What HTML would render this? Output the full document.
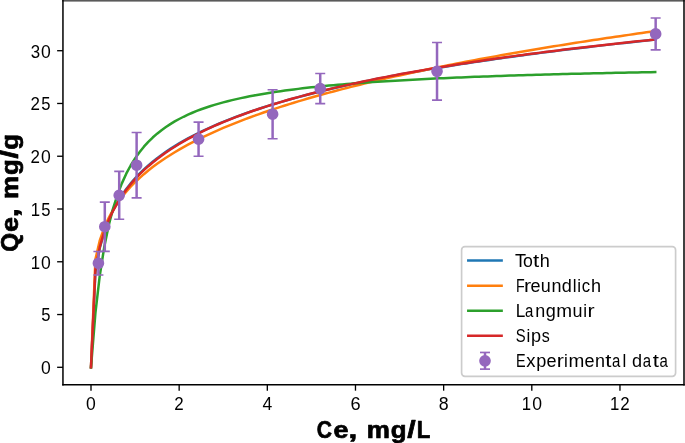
<!DOCTYPE html>
<html><head><meta charset="utf-8"><title>Isotherm fit</title>
<style>
html,body{margin:0;padding:0;background:#fff;}
body{width:685px;height:443px;overflow:hidden;font-family:"Liberation Sans",sans-serif;}
svg{display:block;will-change:transform;}
text{font-family:"Liberation Sans",sans-serif;fill:#000;}
.tk{font-size:17.5px;}
.lg{font-size:17.5px;}
.ax{font-weight:bold;} text{white-space:pre;}
</style></head><body>
<svg width="685" height="443" viewBox="0 0 685 443">
<rect x="0" y="0" width="685" height="443" fill="#fff"/>
<defs><clipPath id="ax"><rect x="62.95" y="0.5" width="621.05" height="384.35"/></clipPath></defs>

<g clip-path="url(#ax)">
<path d="M91.00,367.30 L95.41,272.22 L99.82,247.89 L104.22,232.04 L108.63,220.09 L113.04,210.43 L117.45,202.29 L121.86,195.24 L126.26,189.01 L130.67,183.42 L135.08,178.35 L139.49,173.71 L143.90,169.43 L148.30,165.45 L152.71,161.73 L157.12,158.24 L161.53,154.96 L165.94,151.85 L170.34,148.91 L174.75,146.10 L179.16,143.43 L183.57,140.88 L187.98,138.43 L192.38,136.08 L196.79,133.83 L201.20,131.65 L205.61,129.56 L210.02,127.54 L214.42,125.58 L218.83,123.69 L223.24,121.86 L227.65,120.08 L232.06,118.36 L236.46,116.68 L240.87,115.05 L245.28,113.47 L249.69,111.92 L254.10,110.42 L258.50,108.95 L262.91,107.51 L267.32,106.11 L271.73,104.75 L276.14,103.41 L280.54,102.10 L284.95,100.83 L289.36,99.57 L293.77,98.35 L298.18,97.15 L302.58,95.97 L306.99,94.81 L311.40,93.68 L315.81,92.57 L320.22,91.47 L324.62,90.40 L329.03,89.35 L333.44,88.31 L337.85,87.29 L342.26,86.29 L346.66,85.31 L351.07,84.34 L355.48,83.39 L359.89,82.45 L364.30,81.52 L368.70,80.61 L373.11,79.72 L377.52,78.83 L381.93,77.96 L386.34,77.11 L390.74,76.26 L395.15,75.43 L399.56,74.60 L403.97,73.79 L408.38,72.99 L412.78,72.20 L417.19,71.42 L421.60,70.65 L426.01,69.89 L430.42,69.14 L434.82,68.39 L439.23,67.66 L443.64,66.94 L448.05,66.22 L452.46,65.51 L456.86,64.81 L461.27,64.12 L465.68,63.44 L470.09,62.76 L474.50,62.10 L478.90,61.44 L483.31,60.78 L487.72,60.14 L492.13,59.50 L496.54,58.86 L500.94,58.24 L505.35,57.62 L509.76,57.00 L514.17,56.39 L518.58,55.79 L522.98,55.20 L527.39,54.61 L531.80,54.02 L536.21,53.44 L540.62,52.87 L545.02,52.30 L549.43,51.74 L553.84,51.18 L558.25,50.63 L562.66,50.08 L567.06,49.54 L571.47,49.00 L575.88,48.47 L580.29,47.94 L584.70,47.42 L589.10,46.90 L593.51,46.38 L597.92,45.87 L602.33,45.37 L606.74,44.87 L611.14,44.37 L615.55,43.87 L619.96,43.38 L624.37,42.90 L628.78,42.42 L633.18,41.94 L637.59,41.46 L642.00,40.99 L646.41,40.53 L650.82,40.06 L655.22,39.60" fill="none" stroke="#1f77b4" stroke-width="2.5" stroke-linecap="square" stroke-linejoin="round"/>
<path d="M91.00,367.30 L95.41,259.38 L99.82,240.35 L104.22,227.71 L108.63,217.98 L113.04,209.97 L117.45,203.11 L121.86,197.07 L126.26,191.67 L130.67,186.75 L135.08,182.24 L139.49,178.07 L143.90,174.17 L148.30,170.52 L152.71,167.07 L157.12,163.81 L161.53,160.71 L165.94,157.76 L170.34,154.94 L174.75,152.23 L179.16,149.63 L183.57,147.13 L187.98,144.72 L192.38,142.39 L196.79,140.14 L201.20,137.95 L205.61,135.84 L210.02,133.78 L214.42,131.79 L218.83,129.84 L223.24,127.95 L227.65,126.10 L232.06,124.30 L236.46,122.55 L240.87,120.83 L245.28,119.15 L249.69,117.51 L254.10,115.90 L258.50,114.33 L262.91,112.78 L267.32,111.27 L271.73,109.78 L276.14,108.33 L280.54,106.90 L284.95,105.49 L289.36,104.11 L293.77,102.75 L298.18,101.41 L302.58,100.10 L306.99,98.81 L311.40,97.53 L315.81,96.28 L320.22,95.04 L324.62,93.83 L329.03,92.63 L333.44,91.45 L337.85,90.28 L342.26,89.13 L346.66,87.99 L351.07,86.87 L355.48,85.77 L359.89,84.67 L364.30,83.60 L368.70,82.53 L373.11,81.48 L377.52,80.44 L381.93,79.41 L386.34,78.40 L390.74,77.39 L395.15,76.40 L399.56,75.42 L403.97,74.45 L408.38,73.49 L412.78,72.54 L417.19,71.59 L421.60,70.66 L426.01,69.74 L430.42,68.83 L434.82,67.93 L439.23,67.03 L443.64,66.15 L448.05,65.27 L452.46,64.40 L456.86,63.54 L461.27,62.69 L465.68,61.84 L470.09,61.00 L474.50,60.17 L478.90,59.35 L483.31,58.53 L487.72,57.72 L492.13,56.92 L496.54,56.13 L500.94,55.34 L505.35,54.56 L509.76,53.78 L514.17,53.01 L518.58,52.25 L522.98,51.49 L527.39,50.74 L531.80,49.99 L536.21,49.25 L540.62,48.52 L545.02,47.79 L549.43,47.06 L553.84,46.34 L558.25,45.63 L562.66,44.92 L567.06,44.22 L571.47,43.52 L575.88,42.83 L580.29,42.14 L584.70,41.46 L589.10,40.78 L593.51,40.10 L597.92,39.43 L602.33,38.77 L606.74,38.11 L611.14,37.45 L615.55,36.80 L619.96,36.15 L624.37,35.51 L628.78,34.87 L633.18,34.23 L637.59,33.60 L642.00,32.97 L646.41,32.34 L650.82,31.72 L655.22,31.11" fill="none" stroke="#ff7f0e" stroke-width="2.5" stroke-linecap="square" stroke-linejoin="round"/>
<path d="M91.00,367.30 L95.41,313.08 L99.82,275.19 L104.22,247.21 L108.63,225.71 L113.04,208.66 L117.45,194.82 L121.86,183.36 L126.26,173.71 L130.67,165.48 L135.08,158.37 L139.49,152.17 L143.90,146.71 L148.30,141.87 L152.71,137.55 L157.12,133.68 L161.53,130.17 L165.94,126.99 L170.34,124.10 L174.75,121.44 L179.16,119.00 L183.57,116.76 L187.98,114.68 L192.38,112.75 L196.79,110.96 L201.20,109.28 L205.61,107.72 L210.02,106.25 L214.42,104.88 L218.83,103.59 L223.24,102.37 L227.65,101.22 L232.06,100.13 L236.46,99.10 L240.87,98.12 L245.28,97.20 L249.69,96.31 L254.10,95.48 L258.50,94.68 L262.91,93.91 L267.32,93.18 L271.73,92.49 L276.14,91.82 L280.54,91.18 L284.95,90.57 L289.36,89.98 L293.77,89.41 L298.18,88.87 L302.58,88.35 L306.99,87.85 L311.40,87.36 L315.81,86.89 L320.22,86.44 L324.62,86.01 L329.03,85.59 L333.44,85.18 L337.85,84.79 L342.26,84.41 L346.66,84.04 L351.07,83.69 L355.48,83.34 L359.89,83.01 L364.30,82.68 L368.70,82.37 L373.11,82.06 L377.52,81.76 L381.93,81.47 L386.34,81.19 L390.74,80.92 L395.15,80.65 L399.56,80.40 L403.97,80.14 L408.38,79.90 L412.78,79.66 L417.19,79.43 L421.60,79.20 L426.01,78.98 L430.42,78.77 L434.82,78.55 L439.23,78.35 L443.64,78.15 L448.05,77.95 L452.46,77.76 L456.86,77.57 L461.27,77.39 L465.68,77.21 L470.09,77.04 L474.50,76.87 L478.90,76.70 L483.31,76.54 L487.72,76.38 L492.13,76.22 L496.54,76.06 L500.94,75.91 L505.35,75.77 L509.76,75.62 L514.17,75.48 L518.58,75.34 L522.98,75.21 L527.39,75.07 L531.80,74.94 L536.21,74.81 L540.62,74.69 L545.02,74.56 L549.43,74.44 L553.84,74.32 L558.25,74.21 L562.66,74.09 L567.06,73.98 L571.47,73.87 L575.88,73.76 L580.29,73.65 L584.70,73.55 L589.10,73.44 L593.51,73.34 L597.92,73.24 L602.33,73.14 L606.74,73.04 L611.14,72.95 L615.55,72.86 L619.96,72.76 L624.37,72.67 L628.78,72.58 L633.18,72.50 L637.59,72.41 L642.00,72.32 L646.41,72.24 L650.82,72.16 L655.22,72.08" fill="none" stroke="#2ca02c" stroke-width="2.5" stroke-linecap="square" stroke-linejoin="round"/>
<path d="M91.00,367.30 L95.41,269.70 L99.82,246.90 L104.22,231.78 L108.63,220.23 L113.04,210.82 L117.45,202.84 L121.86,195.88 L126.26,189.71 L130.67,184.16 L135.08,179.11 L139.49,174.47 L143.90,170.18 L148.30,166.18 L152.71,162.45 L157.12,158.94 L161.53,155.63 L165.94,152.49 L170.34,149.52 L174.75,146.69 L179.16,143.98 L183.57,141.40 L187.98,138.92 L192.38,136.55 L196.79,134.26 L201.20,132.06 L205.61,129.94 L210.02,127.89 L214.42,125.91 L218.83,123.99 L223.24,122.13 L227.65,120.33 L232.06,118.58 L236.46,116.88 L240.87,115.23 L245.28,113.62 L249.69,112.05 L254.10,110.52 L258.50,109.04 L262.91,107.58 L267.32,106.17 L271.73,104.78 L276.14,103.43 L280.54,102.10 L284.95,100.81 L289.36,99.54 L293.77,98.30 L298.18,97.08 L302.58,95.89 L306.99,94.72 L311.40,93.58 L315.81,92.45 L320.22,91.35 L324.62,90.26 L329.03,89.20 L333.44,88.15 L337.85,87.13 L342.26,86.12 L346.66,85.12 L351.07,84.15 L355.48,83.18 L359.89,82.24 L364.30,81.31 L368.70,80.39 L373.11,79.49 L377.52,78.60 L381.93,77.72 L386.34,76.86 L390.74,76.01 L395.15,75.17 L399.56,74.34 L403.97,73.53 L408.38,72.72 L412.78,71.93 L417.19,71.15 L421.60,70.37 L426.01,69.61 L430.42,68.86 L434.82,68.12 L439.23,67.38 L443.64,66.66 L448.05,65.94 L452.46,65.23 L456.86,64.53 L461.27,63.84 L465.68,63.16 L470.09,62.48 L474.50,61.82 L478.90,61.16 L483.31,60.50 L487.72,59.86 L492.13,59.22 L496.54,58.59 L500.94,57.97 L505.35,57.35 L509.76,56.74 L514.17,56.13 L518.58,55.53 L522.98,54.94 L527.39,54.35 L531.80,53.77 L536.21,53.20 L540.62,52.63 L545.02,52.06 L549.43,51.51 L553.84,50.95 L558.25,50.41 L562.66,49.86 L567.06,49.33 L571.47,48.79 L575.88,48.27 L580.29,47.74 L584.70,47.22 L589.10,46.71 L593.51,46.20 L597.92,45.70 L602.33,45.20 L606.74,44.70 L611.14,44.21 L615.55,43.72 L619.96,43.24 L624.37,42.76 L628.78,42.28 L633.18,41.81 L637.59,41.35 L642.00,40.88 L646.41,40.42 L650.82,39.97 L655.22,39.51" fill="none" stroke="#d62728" stroke-width="2.5" stroke-linecap="square" stroke-linejoin="round"/>
<g stroke="#9467bd" stroke-width="2.5" fill="none">
<line x1="98.41" x2="98.41" y1="274.96" y2="251.53"/>
<line x1="104.80" x2="104.80" y1="251.32" y2="202.15"/>
<line x1="119.21" x2="119.21" y1="219.24" y2="171.33"/>
<line x1="136.62" x2="136.62" y1="197.92" y2="132.50"/>
<line x1="198.56" x2="198.56" y1="156.24" y2="122.05"/>
<line x1="272.61" x2="272.61" y1="138.72" y2="89.76"/>
<line x1="320.22" x2="320.22" y1="103.69" y2="73.50"/>
<line x1="437.03" x2="437.03" y1="100.10" y2="42.48"/>
<line x1="655.66" x2="655.66" y1="49.87" y2="18.00"/>
</g>
<g fill="#9467bd" stroke="#9467bd" stroke-width="1.67">
<circle cx="98.41" cy="263.25" r="5"/>
<circle cx="104.80" cy="226.73" r="5"/>
<circle cx="119.21" cy="195.29" r="5"/>
<circle cx="136.62" cy="165.21" r="5"/>
<circle cx="198.56" cy="139.14" r="5"/>
<circle cx="272.61" cy="114.24" r="5"/>
<circle cx="320.22" cy="88.60" r="5"/>
<circle cx="437.03" cy="71.29" r="5"/>
<circle cx="655.66" cy="33.93" r="5"/>
</g>
<g stroke="#9467bd" stroke-width="1.67" fill="none">
<line x1="93.41" x2="103.41" y1="274.96" y2="274.96"/>
<line x1="93.41" x2="103.41" y1="251.53" y2="251.53"/>
<line x1="99.80" x2="109.80" y1="251.32" y2="251.32"/>
<line x1="99.80" x2="109.80" y1="202.15" y2="202.15"/>
<line x1="114.21" x2="124.21" y1="219.24" y2="219.24"/>
<line x1="114.21" x2="124.21" y1="171.33" y2="171.33"/>
<line x1="131.62" x2="141.62" y1="197.92" y2="197.92"/>
<line x1="131.62" x2="141.62" y1="132.50" y2="132.50"/>
<line x1="193.56" x2="203.56" y1="156.24" y2="156.24"/>
<line x1="193.56" x2="203.56" y1="122.05" y2="122.05"/>
<line x1="267.61" x2="277.61" y1="138.72" y2="138.72"/>
<line x1="267.61" x2="277.61" y1="89.76" y2="89.76"/>
<line x1="315.22" x2="325.22" y1="103.69" y2="103.69"/>
<line x1="315.22" x2="325.22" y1="73.50" y2="73.50"/>
<line x1="432.03" x2="442.03" y1="100.10" y2="100.10"/>
<line x1="432.03" x2="442.03" y1="42.48" y2="42.48"/>
<line x1="650.66" x2="660.66" y1="49.87" y2="49.87"/>
<line x1="650.66" x2="660.66" y1="18.00" y2="18.00"/>
</g>
</g>
<g stroke="#000" stroke-width="1.33" fill="none">
<line x1="91.00" x2="91.00" y1="384.85" y2="390.68"/>
<line x1="179.16" x2="179.16" y1="384.85" y2="390.68"/>
<line x1="267.32" x2="267.32" y1="384.85" y2="390.68"/>
<line x1="355.48" x2="355.48" y1="384.85" y2="390.68"/>
<line x1="443.64" x2="443.64" y1="384.85" y2="390.68"/>
<line x1="531.80" x2="531.80" y1="384.85" y2="390.68"/>
<line x1="619.96" x2="619.96" y1="384.85" y2="390.68"/>
<line x1="62.95" x2="57.12" y1="367.30" y2="367.30"/>
<line x1="62.95" x2="57.12" y1="314.54" y2="314.54"/>
<line x1="62.95" x2="57.12" y1="261.77" y2="261.77"/>
<line x1="62.95" x2="57.12" y1="209.00" y2="209.00"/>
<line x1="62.95" x2="57.12" y1="156.24" y2="156.24"/>
<line x1="62.95" x2="57.12" y1="103.47" y2="103.47"/>
<line x1="62.95" x2="57.12" y1="50.71" y2="50.71"/>
</g>
<rect x="62.20" y="0" width="622.55" height="1.6" fill="#5a5a5a"/>
<g stroke="#000" stroke-width="1.5" fill="none" stroke-linecap="butt">
<line x1="62.95" x2="62.95" y1="0" y2="385.60"/>
<line x1="684.0" x2="684.0" y1="0" y2="385.60"/>
<line x1="62.20" x2="684.75" y1="384.85" y2="384.85"/>
</g>
<text class="tk" transform="translate(85.70,409.60)" y="0" style="font-size:17.5px"><tspan x="0.41" textLength="9.77" lengthAdjust="spacingAndGlyphs">0</tspan></text>
<text class="tk" transform="translate(173.86,409.60)" y="0" style="font-size:17.5px"><tspan x="0.37" textLength="9.42" lengthAdjust="spacingAndGlyphs">2</tspan></text>
<text class="tk" transform="translate(262.02,409.60)" y="0" style="font-size:17.5px"><tspan x="0.41" textLength="9.77" lengthAdjust="spacingAndGlyphs">4</tspan></text>
<text class="tk" transform="translate(350.18,409.60)" y="0" style="font-size:17.5px"><tspan x="0.24" textLength="10.11" lengthAdjust="spacingAndGlyphs">6</tspan></text>
<text class="tk" transform="translate(438.34,409.60)" y="0" style="font-size:17.5px"><tspan x="0.36" textLength="9.88" lengthAdjust="spacingAndGlyphs">8</tspan></text>
<text class="tk" transform="translate(521.20,409.60)" y="0" style="font-size:17.5px"><tspan x="0.55" textLength="9.33" lengthAdjust="spacingAndGlyphs">1</tspan><tspan x="11.02" textLength="9.77" lengthAdjust="spacingAndGlyphs">0</tspan></text>
<text class="tk" transform="translate(609.36,409.60)" y="0" style="font-size:17.5px"><tspan x="0.55" textLength="9.33" lengthAdjust="spacingAndGlyphs">1</tspan><tspan x="10.97" textLength="9.42" lengthAdjust="spacingAndGlyphs">2</tspan></text>
<text class="tk" transform="translate(40.70,374.15)" y="0" style="font-size:17.5px"><tspan x="0.41" textLength="9.77" lengthAdjust="spacingAndGlyphs">0</tspan></text>
<text class="tk" transform="translate(40.70,321.39)" y="0" style="font-size:17.5px"><tspan x="0.62" textLength="9.22" lengthAdjust="spacingAndGlyphs">5</tspan></text>
<text class="tk" transform="translate(30.09,268.62)" y="0" style="font-size:17.5px"><tspan x="0.55" textLength="9.33" lengthAdjust="spacingAndGlyphs">1</tspan><tspan x="11.02" textLength="9.77" lengthAdjust="spacingAndGlyphs">0</tspan></text>
<text class="tk" transform="translate(30.09,215.85)" y="0" style="font-size:17.5px"><tspan x="0.55" textLength="9.33" lengthAdjust="spacingAndGlyphs">1</tspan><tspan x="11.23" textLength="9.22" lengthAdjust="spacingAndGlyphs">5</tspan></text>
<text class="tk" transform="translate(30.09,163.09)" y="0" style="font-size:17.5px"><tspan x="0.37" textLength="9.42" lengthAdjust="spacingAndGlyphs">2</tspan><tspan x="11.02" textLength="9.77" lengthAdjust="spacingAndGlyphs">0</tspan></text>
<text class="tk" transform="translate(30.09,110.32)" y="0" style="font-size:17.5px"><tspan x="0.37" textLength="9.42" lengthAdjust="spacingAndGlyphs">2</tspan><tspan x="11.23" textLength="9.22" lengthAdjust="spacingAndGlyphs">5</tspan></text>
<text class="tk" transform="translate(30.09,57.56)" y="0" style="font-size:17.5px"><tspan x="0.63" textLength="9.38" lengthAdjust="spacingAndGlyphs">3</tspan><tspan x="11.02" textLength="9.77" lengthAdjust="spacingAndGlyphs">0</tspan></text>
<text class="ax" transform="translate(316.18,438.30)" y="0" style="font-size:23.6px;stroke:#000;stroke-width:0.7px;stroke-linejoin:round"><tspan x="0.65" textLength="15.21" lengthAdjust="spacingAndGlyphs">C</tspan><tspan x="17.43" textLength="14.97" lengthAdjust="spacingAndGlyphs">e</tspan><tspan x="32.39" textLength="8.82" lengthAdjust="spacingAndGlyphs">,</tspan><tspan x="41.81"> </tspan><tspan x="50.51" textLength="23.16" lengthAdjust="spacingAndGlyphs">m</tspan><tspan x="74.59" textLength="15.78" lengthAdjust="spacingAndGlyphs">g</tspan><tspan x="91.01" textLength="8.41" lengthAdjust="spacingAndGlyphs">/</tspan><tspan x="100.48" textLength="13.56" lengthAdjust="spacingAndGlyphs">L</tspan></text>
<text class="ax" transform="translate(17.85,252.24) rotate(-90)" y="0" style="font-size:23.6px;stroke:#000;stroke-width:0.7px;stroke-linejoin:round"><tspan x="0.52" textLength="18.81" lengthAdjust="spacingAndGlyphs">Q</tspan><tspan x="20.14" textLength="14.97" lengthAdjust="spacingAndGlyphs">e</tspan><tspan x="35.10" textLength="8.82" lengthAdjust="spacingAndGlyphs">,</tspan><tspan x="44.52"> </tspan><tspan x="53.22" textLength="23.16" lengthAdjust="spacingAndGlyphs">m</tspan><tspan x="77.30" textLength="15.78" lengthAdjust="spacingAndGlyphs">g</tspan><tspan x="93.72" textLength="8.41" lengthAdjust="spacingAndGlyphs">/</tspan><tspan x="102.52" textLength="15.78" lengthAdjust="spacingAndGlyphs">g</tspan></text>
<rect x="461.6" y="246.6" width="214.0" height="129.8" rx="3.3" ry="3.3" fill="#fff" fill-opacity="0.8" stroke="#ccc" stroke-width="1.67"/>
<line x1="468.3" x2="501.6" y1="260.60" y2="260.60" stroke="#1f77b4" stroke-width="2.5" stroke-linecap="square"/>
<text class="lg" transform="translate(515.45,266.60)" y="0" style="font-size:17.5px"><tspan x="-0.46" textLength="11.10" lengthAdjust="spacingAndGlyphs">T</tspan><tspan x="7.52" textLength="9.85" lengthAdjust="spacingAndGlyphs">o</tspan><tspan x="17.66" textLength="6.19" lengthAdjust="spacingAndGlyphs">t</tspan><tspan x="24.34" textLength="10.06" lengthAdjust="spacingAndGlyphs">h</tspan></text>
<line x1="468.3" x2="501.6" y1="285.65" y2="285.65" stroke="#ff7f0e" stroke-width="2.5" stroke-linecap="square"/>
<text class="lg" transform="translate(515.45,291.65)" y="0" style="font-size:17.5px"><tspan x="0.46" textLength="8.73" lengthAdjust="spacingAndGlyphs">F</tspan><tspan x="8.47" textLength="7.11" lengthAdjust="spacingAndGlyphs">r</tspan><tspan x="15.02" textLength="10.01" lengthAdjust="spacingAndGlyphs">e</tspan><tspan x="25.36" textLength="9.99" lengthAdjust="spacingAndGlyphs">u</tspan><tspan x="36.00" textLength="9.99" lengthAdjust="spacingAndGlyphs">n</tspan><tspan x="46.40" textLength="10.07" lengthAdjust="spacingAndGlyphs">d</tspan><tspan x="57.24" textLength="3.79" lengthAdjust="spacingAndGlyphs">l</tspan><tspan x="61.88" textLength="3.79" lengthAdjust="spacingAndGlyphs">i</tspan><tspan x="66.29" textLength="8.36" lengthAdjust="spacingAndGlyphs">c</tspan><tspan x="75.50" textLength="10.06" lengthAdjust="spacingAndGlyphs">h</tspan></text>
<line x1="468.3" x2="501.6" y1="310.70" y2="310.70" stroke="#2ca02c" stroke-width="2.5" stroke-linecap="square"/>
<text class="lg" transform="translate(515.45,316.70)" y="0" style="font-size:17.5px"><tspan x="0.23" textLength="9.54" lengthAdjust="spacingAndGlyphs">L</tspan><tspan x="9.65" textLength="8.34" lengthAdjust="spacingAndGlyphs">a</tspan><tspan x="19.82" textLength="9.99" lengthAdjust="spacingAndGlyphs">n</tspan><tspan x="30.22" textLength="10.07" lengthAdjust="spacingAndGlyphs">g</tspan><tspan x="40.89" textLength="15.82" lengthAdjust="spacingAndGlyphs">m</tspan><tspan x="57.13" textLength="9.99" lengthAdjust="spacingAndGlyphs">u</tspan><tspan x="67.87" textLength="3.79" lengthAdjust="spacingAndGlyphs">i</tspan><tspan x="72.17" textLength="7.11" lengthAdjust="spacingAndGlyphs">r</tspan></text>
<line x1="468.3" x2="501.6" y1="335.75" y2="335.75" stroke="#d62728" stroke-width="2.5" stroke-linecap="square"/>
<text class="lg" transform="translate(515.45,341.75)" y="0" style="font-size:17.5px"><tspan x="0.42" textLength="9.91" lengthAdjust="spacingAndGlyphs">S</tspan><tspan x="11.01" textLength="3.79" lengthAdjust="spacingAndGlyphs">i</tspan><tspan x="15.56" textLength="10.08" lengthAdjust="spacingAndGlyphs">p</tspan><tspan x="26.25" textLength="7.99" lengthAdjust="spacingAndGlyphs">s</tspan></text>
<line x1="485.0" x2="485.0" y1="352.47" y2="369.13" stroke="#9467bd" stroke-width="2.5"/>
<circle cx="485.0" cy="360.80" r="5" fill="#9467bd" stroke="#9467bd" stroke-width="1.67"/>
<line x1="480.0" x2="490.0" y1="352.47" y2="352.47" stroke="#9467bd" stroke-width="1.67"/>
<line x1="480.0" x2="490.0" y1="369.13" y2="369.13" stroke="#9467bd" stroke-width="1.67"/>
<text class="lg" transform="translate(515.45,366.80)" y="0" style="font-size:17.5px"><tspan x="0.45" textLength="9.63" lengthAdjust="spacingAndGlyphs">E</tspan><tspan x="10.80" textLength="9.24" lengthAdjust="spacingAndGlyphs">x</tspan><tspan x="20.74" textLength="10.08" lengthAdjust="spacingAndGlyphs">p</tspan><tspan x="31.13" textLength="10.01" lengthAdjust="spacingAndGlyphs">e</tspan><tspan x="41.32" textLength="7.11" lengthAdjust="spacingAndGlyphs">r</tspan><tspan x="48.51" textLength="3.79" lengthAdjust="spacingAndGlyphs">i</tspan><tspan x="52.96" textLength="15.82" lengthAdjust="spacingAndGlyphs">m</tspan><tspan x="69.10" textLength="10.01" lengthAdjust="spacingAndGlyphs">e</tspan><tspan x="79.52" textLength="9.99" lengthAdjust="spacingAndGlyphs">n</tspan><tspan x="89.87" textLength="6.19" lengthAdjust="spacingAndGlyphs">t</tspan><tspan x="96.66" textLength="8.34" lengthAdjust="spacingAndGlyphs">a</tspan><tspan x="106.94" textLength="3.79" lengthAdjust="spacingAndGlyphs">l</tspan><tspan x="111.14"> </tspan><tspan x="116.60" textLength="10.07" lengthAdjust="spacingAndGlyphs">d</tspan><tspan x="127.39" textLength="8.34" lengthAdjust="spacingAndGlyphs">a</tspan><tspan x="137.34" textLength="6.19" lengthAdjust="spacingAndGlyphs">t</tspan><tspan x="144.13" textLength="8.34" lengthAdjust="spacingAndGlyphs">a</tspan></text>
</svg></body></html>
